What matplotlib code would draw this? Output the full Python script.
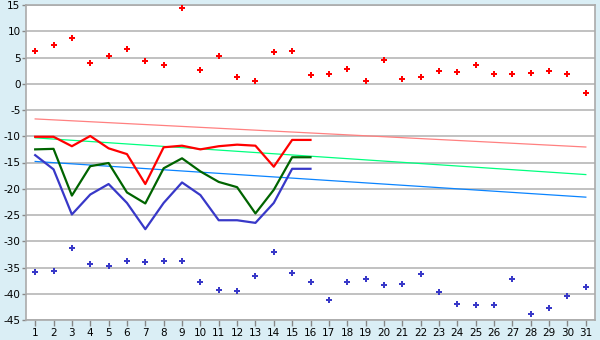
import matplotlib
matplotlib.use("Agg")
import matplotlib.pyplot as plt

days = list(range(1, 32))
high_pts = [6.2, 7.3, 8.8, 3.9, 5.2, 6.7, 4.3, 3.5, 14.4, 2.7, 5.2, 1.2, 0.5, 6.0, 6.2, 1.6,
            1.8, 2.75, 0.5, 4.5, 1.0, 1.2, 2.4, 2.2, 3.5, 1.8, 1.8, 2.0, 2.4, 1.8, -1.8]
low_pts = [-35.9, -35.7, -31.3, -34.4, -34.8, -33.8, -34.0, -33.8, -33.8, -37.8, -39.2, -39.5,
           -36.7, -32.1, -36.1, -37.8, -41.1, -37.8, -37.2, -38.4, -38.2, -36.3, -39.7, -42.0,
           -42.2, -42.2, -37.2, -43.9, -42.8, -40.5, -38.8]
line_days = list(range(1, 17))
red_line = [-10.1, -10.1, -11.9, -9.95, -12.3, -13.4, -19.1, -12.1, -11.8, -12.5, -11.9, -11.6,
            -11.8, -15.8, -10.7, -10.7]
green_line = [-12.5, -12.4, -21.3, -15.7, -15.1, -20.7, -22.8, -16.1, -14.2, -16.7, -18.7, -19.7,
              -24.7, -20.2, -14.0, -14.0]
blue_line = [-13.6, -16.3, -24.9, -21.1, -19.1, -22.7, -27.7, -22.7, -18.8, -21.2, -26.0, -26.0,
             -26.5, -22.7, -16.2, -16.2]
trend_days = [1, 31]
trend_pink = [-6.7, -12.05]
trend_green = [-10.3, -17.3]
trend_blue = [-14.8, -21.6]
yticks = list(range(-45, 16, 5))

bg = "#daeef5"
fig = plt.figure(figsize=(6, 3.4), dpi=100, facecolor=bg)
ax = fig.add_axes([26/600, 20/340, 569/600, 315/340])
ax.set_facecolor("white")

for y in yticks:
    ax.axhline(y, color="#b0b0b0", lw=1.1, zorder=0)

ax.plot(trend_days, trend_pink, color="#ff8080", lw=0.9, zorder=1)
ax.plot(trend_days, trend_green, color="#00ff7f", lw=0.9, zorder=1)
ax.plot(trend_days, trend_blue, color="#0a84ff", lw=0.9, zorder=1)

ax.plot(line_days, red_line, color="#ff0000", lw=1.6, zorder=3)
ax.plot(line_days, green_line, color="#006400", lw=1.6, zorder=3)
ax.plot(line_days, blue_line, color="#3838c8", lw=1.6, zorder=3)

ax.plot(days, high_pts, ls="none", marker="P", ms=4.8, color="#ff0000", mew=0, zorder=4)
ax.plot(days, low_pts, ls="none", marker="P", ms=4.8, color="#3838c8", mew=0, zorder=4)

ax.set_xlim(0.5, 31.5)
ax.set_ylim(-45, 15)
ax.set_xticks(days)
ax.set_xticklabels([str(d) for d in days])
ax.set_yticks(yticks)
ax.set_yticklabels([str(y) for y in yticks])
ax.tick_params(axis="both", colors="#888888", labelcolor="black", labelsize=7.5, length=4, width=1)
ax.tick_params(axis="y", pad=1, length=3)
ax.tick_params(axis="x", pad=2)
for s in ax.spines.values():
    s.set_color("#aaaaaa")
    s.set_linewidth(1.2)

fig.savefig("out.png", dpi=100, facecolor=bg)
